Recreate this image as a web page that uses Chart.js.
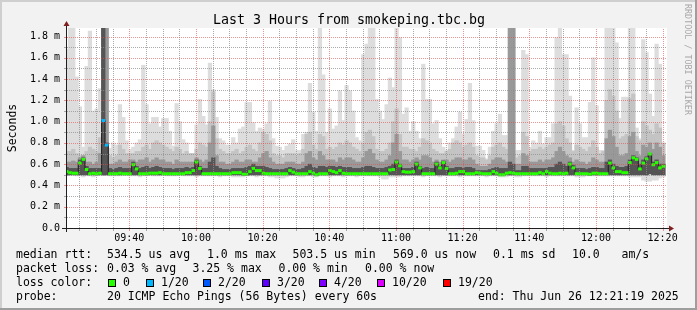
<!DOCTYPE html>
<html>
<head>
<meta charset="utf-8">
<script src="https://cdn.jsdelivr.net/npm/chart.js@4.4.1/dist/chart.umd.min.js"></script>
<style>
  html, body { margin: 0; padding: 0; background: #f2f2f2; }
  canvas { display: block; }
</style>
</head>
<body>
<canvas id="graph" width="697" height="310"></canvas>
<script>
// one value per 60 s step, 09:21 -> 12:21 (ms)
const maxPing = [
  1.68,1.88,1.88,1.42,1.14,0.76,1.52,1.85,1.10,1.12,1.31,1.88,1.88,0.75,0.80,0.78,1.16,1.04,0.82,0.74,0.76,0.80,0.83,1.53,1.16,0.98,1.04,1.04,0.95,1.03,
  1.03,0.91,0.77,1.17,1.00,0.83,0.80,0.70,0.70,0.97,1.21,1.05,0.97,1.55,1.30,1.04,0.84,0.82,0.78,0.78,0.85,0.80,0.93,0.95,1.18,1.18,0.99,0.91,0.94,0.93,
  0.98,1.19,0.84,0.77,0.76,0.73,0.77,0.79,0.83,0.73,0.73,0.88,0.90,1.36,1.09,0.91,1.88,1.44,0.90,1.12,0.93,0.96,1.29,1.01,1.34,1.29,1.10,0.85,0.82,1.63,
  1.73,1.88,1.88,1.21,1.10,1.02,1.16,1.41,1.32,1.88,1.79,1.07,1.13,0.91,1.00,0.91,0.84,1.54,1.21,1.21,0.98,1.01,0.84,0.76,0.73,0.80,0.84,0.95,1.09,0.88,
  1.02,1.36,1.01,0.77,0.77,0.73,0.65,0.76,0.91,0.98,1.07,0.87,0.87,1.88,1.88,0.73,0.73,1.67,1.63,0.76,0.82,0.80,0.91,0.79,0.85,0.85,0.98,1.79,1.88,1.63,
  1.63,1.24,0.73,1.13,0.98,0.85,0.85,1.18,1.60,1.15,0.73,0.73,1.88,1.88,1.88,1.74,1.03,1.23,1.23,1.88,1.88,0.94,0.84,1.77,1.65,1.26,1.05,1.73,1.54,0.79
];
const upperSmoke = [
  0.72,0.72,0.74,0.70,0.68,0.68,0.72,0.76,0.74,0.72,0.85,1.88,1.88,0.68,0.66,0.68,0.78,0.74,0.70,0.70,0.70,0.72,0.72,0.76,0.78,0.74,0.80,0.82,0.80,0.78,
  0.76,0.74,0.72,0.76,0.74,0.70,0.72,0.70,0.70,0.74,0.80,0.78,0.76,1.00,1.28,0.84,0.74,0.72,0.70,0.70,0.72,0.74,0.70,0.72,0.76,0.78,0.74,0.72,0.80,0.90,
  0.88,0.82,0.70,0.68,0.68,0.66,0.70,0.70,0.70,0.68,0.70,0.74,0.88,0.90,0.78,0.74,0.88,0.86,0.74,0.76,0.74,0.76,0.80,0.78,0.82,0.80,0.76,0.74,0.72,0.80,
  0.90,0.92,0.86,0.74,0.72,0.72,0.74,0.80,1.00,1.12,0.88,0.76,0.76,0.74,0.74,0.72,0.76,0.84,0.82,0.80,0.74,0.72,0.70,0.70,0.72,0.74,0.80,0.82,0.80,0.76,
  0.78,0.80,0.76,0.68,0.66,0.66,0.64,0.68,0.76,0.78,0.80,0.76,0.74,1.88,1.88,0.66,0.68,0.90,0.86,0.72,0.74,0.74,0.76,0.74,0.76,0.78,0.80,0.98,1.00,0.96,
  0.84,0.80,0.72,0.78,0.76,0.74,0.72,0.76,0.82,0.76,0.70,0.72,1.20,1.30,1.24,1.10,0.84,0.86,0.88,1.22,1.26,0.86,0.82,1.00,0.96,0.92,0.88,0.98,0.94,0.80
];
const midSmoke = [
  0.62,0.62,0.63,0.62,0.66,0.68,0.62,0.62,0.60,0.62,0.70,1.88,1.88,0.60,0.60,0.62,0.64,0.62,0.62,0.64,0.64,0.62,0.64,0.64,0.66,0.62,0.64,0.66,0.64,0.64,
  0.62,0.62,0.60,0.64,0.62,0.62,0.62,0.62,0.62,0.66,0.64,0.62,0.64,0.80,0.96,0.68,0.62,0.62,0.60,0.60,0.62,0.64,0.62,0.62,0.64,0.64,0.62,0.62,0.66,0.70,
  0.72,0.66,0.62,0.60,0.60,0.60,0.62,0.62,0.62,0.60,0.60,0.62,0.70,0.72,0.66,0.64,0.72,0.68,0.64,0.64,0.64,0.62,0.66,0.64,0.66,0.66,0.64,0.62,0.62,0.66,
  0.72,0.74,0.70,0.64,0.62,0.62,0.64,0.68,0.80,0.88,0.72,0.64,0.64,0.62,0.64,0.66,0.64,0.68,0.68,0.66,0.62,0.64,0.62,0.64,0.64,0.62,0.64,0.66,0.66,0.64,
  0.64,0.66,0.64,0.60,0.58,0.58,0.58,0.60,0.64,0.66,0.66,0.64,0.62,1.88,1.88,0.60,0.60,0.70,0.68,0.62,0.62,0.62,0.64,0.62,0.64,0.64,0.66,0.72,0.76,0.72,
  0.68,0.66,0.62,0.64,0.62,0.62,0.60,0.62,0.66,0.64,0.62,0.62,0.84,0.92,0.86,0.76,0.68,0.68,0.70,0.86,0.90,0.72,0.68,0.78,0.76,0.80,0.74,0.80,0.76,0.68
];
const innerSmoke = [
  0.57,0.56,0.56,0.56,0.64,0.66,0.58,0.56,0.56,0.56,0.56,1.88,0.80,0.56,0.55,0.56,0.57,0.56,0.56,0.56,0.62,0.58,0.56,0.57,0.58,0.56,0.57,0.58,0.57,0.56,
  0.56,0.56,0.55,0.56,0.56,0.56,0.57,0.56,0.57,0.64,0.58,0.56,0.56,0.62,0.66,0.58,0.56,0.55,0.55,0.55,0.56,0.56,0.56,0.56,0.57,0.58,0.60,0.58,0.58,0.58,
  0.57,0.56,0.55,0.55,0.55,0.55,0.56,0.57,0.56,0.55,0.55,0.56,0.58,0.60,0.57,0.56,0.58,0.58,0.57,0.58,0.58,0.57,0.58,0.57,0.57,0.57,0.56,0.56,0.56,0.57,
  0.58,0.58,0.57,0.56,0.56,0.56,0.57,0.58,0.60,0.64,0.60,0.56,0.56,0.56,0.57,0.62,0.58,0.56,0.57,0.56,0.56,0.62,0.58,0.63,0.58,0.56,0.56,0.57,0.57,0.56,
  0.57,0.57,0.56,0.54,0.54,0.54,0.54,0.55,0.56,0.57,0.56,0.56,0.56,0.62,0.60,0.54,0.54,0.58,0.58,0.56,0.56,0.56,0.56,0.56,0.56,0.57,0.57,0.60,0.62,0.60,
  0.58,0.62,0.59,0.56,0.56,0.56,0.55,0.56,0.57,0.57,0.56,0.56,0.62,0.64,0.60,0.58,0.57,0.57,0.58,0.64,0.68,0.66,0.60,0.64,0.67,0.70,0.62,0.64,0.60,0.60
];
// lower edge of the darker smoke bands
const lowSmoke = [
  0.50,0.50,0.50,0.50,0.50,0.50,0.50,0.50,0.50,0.50,0.50,0.50,0.50,0.50,0.50,0.50,0.50,0.50,0.50,0.50,0.50,0.50,0.50,0.50,0.50,0.50,0.50,0.50,0.50,0.50,
  0.50,0.50,0.50,0.50,0.50,0.50,0.50,0.50,0.50,0.50,0.50,0.50,0.50,0.50,0.50,0.50,0.50,0.50,0.50,0.50,0.50,0.50,0.50,0.495,0.495,0.50,0.50,0.50,0.50,0.50,
  0.50,0.50,0.50,0.50,0.50,0.50,0.50,0.50,0.50,0.50,0.50,0.50,0.50,0.50,0.50,0.495,0.50,0.50,0.50,0.50,0.50,0.50,0.50,0.50,0.50,0.50,0.50,0.50,0.50,0.50,
  0.50,0.50,0.50,0.50,0.50,0.50,0.50,0.50,0.50,0.50,0.50,0.50,0.50,0.50,0.50,0.50,0.50,0.50,0.50,0.50,0.50,0.50,0.50,0.50,0.50,0.50,0.50,0.50,0.50,0.50,
  0.50,0.50,0.50,0.50,0.50,0.50,0.50,0.50,0.50,0.50,0.495,0.495,0.50,0.50,0.50,0.50,0.50,0.50,0.50,0.50,0.50,0.50,0.50,0.50,0.50,0.50,0.50,0.50,0.50,0.50,
  0.50,0.50,0.50,0.50,0.50,0.50,0.50,0.495,0.50,0.50,0.50,0.50,0.50,0.50,0.50,0.50,0.50,0.50,0.50,0.50,0.50,0.50,0.50,0.50,0.50,0.51,0.50,0.50,0.50,0.50
];
const minPing = [
  0.50,0.50,0.50,0.49,0.49,0.48,0.49,0.49,0.48,0.49,0.50,0.50,0.50,0.49,0.49,0.49,0.49,0.50,0.50,0.49,0.49,0.49,0.48,0.49,0.49,0.50,0.49,0.49,0.49,0.50,
  0.49,0.49,0.49,0.49,0.50,0.49,0.49,0.49,0.49,0.48,0.49,0.49,0.49,0.49,0.49,0.49,0.48,0.49,0.49,0.49,0.48,0.48,0.48,0.48,0.49,0.49,0.49,0.48,0.49,0.49,
  0.49,0.48,0.48,0.47,0.47,0.47,0.48,0.49,0.49,0.49,0.48,0.48,0.49,0.49,0.48,0.48,0.49,0.49,0.49,0.48,0.49,0.49,0.49,0.48,0.49,0.49,0.49,0.48,0.49,0.49,
  0.49,0.49,0.49,0.49,0.48,0.46,0.46,0.48,0.48,0.48,0.48,0.49,0.49,0.49,0.49,0.49,0.49,0.48,0.49,0.49,0.49,0.49,0.48,0.49,0.49,0.49,0.49,0.49,0.48,0.49,
  0.49,0.49,0.49,0.49,0.49,0.49,0.48,0.49,0.49,0.49,0.48,0.48,0.48,0.49,0.49,0.48,0.48,0.49,0.49,0.49,0.49,0.49,0.49,0.49,0.48,0.49,0.49,0.49,0.49,0.49,
  0.49,0.49,0.49,0.48,0.48,0.48,0.49,0.49,0.49,0.49,0.49,0.49,0.49,0.49,0.49,0.49,0.49,0.49,0.49,0.48,0.48,0.48,0.48,0.45,0.44,0.44,0.45,0.45,0.47,0.48
];
const medianRtt = [
  0.53,0.52,0.515,0.515,0.61,0.645,0.55,0.51,0.515,0.51,0.515,1.01,0.78,0.51,0.51,0.51,0.515,0.51,0.51,0.51,0.595,0.555,0.51,0.51,0.51,0.515,0.515,0.515,0.52,0.51,
  0.51,0.51,0.51,0.51,0.51,0.51,0.52,0.52,0.54,0.62,0.56,0.51,0.51,0.51,0.51,0.51,0.51,0.51,0.51,0.51,0.52,0.52,0.52,0.505,0.505,0.53,0.56,0.54,0.54,0.515,
  0.51,0.51,0.51,0.51,0.51,0.51,0.51,0.54,0.525,0.51,0.51,0.51,0.51,0.53,0.515,0.50,0.51,0.51,0.51,0.54,0.53,0.52,0.54,0.515,0.51,0.51,0.51,0.51,0.51,0.51,
  0.51,0.51,0.51,0.51,0.51,0.51,0.51,0.545,0.55,0.62,0.585,0.53,0.525,0.525,0.53,0.60,0.565,0.51,0.51,0.51,0.51,0.60,0.565,0.615,0.56,0.51,0.51,0.515,0.53,0.53,
  0.51,0.51,0.51,0.52,0.515,0.51,0.51,0.51,0.53,0.515,0.50,0.50,0.515,0.52,0.515,0.51,0.51,0.51,0.51,0.51,0.51,0.51,0.52,0.51,0.53,0.515,0.51,0.51,0.515,0.51,
  0.515,0.60,0.565,0.51,0.51,0.51,0.51,0.505,0.515,0.515,0.51,0.51,0.51,0.61,0.565,0.53,0.53,0.52,0.52,0.615,0.66,0.645,0.555,0.61,0.65,0.695,0.595,0.615,0.565,0.58
];
// index into lossColors for each step (0 = no loss, 1 = 1/20)
const lossLevel = [
  0,0,0,0,0,0,0,0,0,0,0,1,1,0,0,0,0,0,0,0,0,0,0,0,0,0,0,0,0,0,
  0,0,0,0,0,0,0,0,0,0,0,0,0,0,0,0,0,0,0,0,0,0,0,0,0,0,0,0,0,0,
  0,0,0,0,0,0,0,0,0,0,0,0,0,0,0,0,0,0,0,0,0,0,0,0,0,0,0,0,0,0,
  0,0,0,0,0,0,0,0,0,0,0,0,0,0,0,0,0,0,0,0,0,0,0,0,0,0,0,0,0,0,
  0,0,0,0,0,0,0,0,0,0,0,0,0,0,0,0,0,0,0,0,0,0,0,0,0,0,0,0,0,0,
  0,0,0,0,0,0,0,0,0,0,0,0,0,0,0,0,0,0,0,0,0,0,0,0,0,0,0,0,0,0
];

const lossColors = ["#26ff00", "#00b8ff", "#0059ff", "#5e00ff", "#7e00ff", "#dd00ff", "#ff0000"];
const lossLabels = ["0", "1/20", "2/20", "3/20", "4/20", "10/20", "19/20"];

const xTickValues = [40, 60, 80, 100, 120, 140, 160, 180, 200]; // minutes after 09:00
const xTickLabels = ["09:40", "10:00", "10:20", "10:40", "11:00", "11:20", "11:40", "12:00", "12:20"];
const yTickValues = [0, 0.2, 0.4, 0.6, 0.8, 1.0, 1.2, 1.4, 1.6, 1.8];
const yTickLabels = ["0.0", "0.2 m", "0.4 m", "0.6 m", "0.8 m", "1.0 m", "1.2 m", "1.4 m", "1.6 m", "1.8 m"];

const titleText = "Last 3 Hours from smokeping.tbc.bg";
const rttRow = ["median rtt:", "534.5 us avg", "1.0 ms max", "503.5 us min", "569.0 us now", "0.1 ms sd", "10.0", "am/s"];
const lossRow = ["packet loss:", "0.03 % avg", "3.25 % max", "0.00 % min", "0.00 % now"];
const probeRow = ["probe:", "20 ICMP Echo Pings (56 Bytes) every 60s", "end: Thu Jun 26 12:21:19 2025"];

const X_START = 21 + 19 / 60; // 09:21:19
const X_END = X_START + 180;
const FIRST_STEP = 21.2;

const MONO = '"DejaVu Sans Mono", monospace';
const xs = medianRtt.map((_, i) => FIRST_STEP + i);

const smoke = (lower, upper, color, order) => ({
  type: "bar",
  data: xs.map((x, i) => ({ x: x, y: [lower[i], upper[i]] })),
  backgroundColor: color,
  borderWidth: 0,
  grouped: false,
  barThickness: 3.6,
  order: order
});

const rrdFrame = {
  id: "rrdFrame",
  beforeDraw(chart) {
    const { ctx, chartArea: a } = chart;
    ctx.save();
    ctx.fillStyle = "#f2f2f2";
    ctx.fillRect(0, 0, 697, 310);
    ctx.fillStyle = "#cfcfcf";
    ctx.fillRect(0, 0, 697, 2);
    ctx.fillRect(0, 0, 2, 310);
    ctx.fillStyle = "#9e9e9e";
    ctx.fillRect(0, 308, 697, 2);
    ctx.fillRect(695, 0, 2, 310);
    ctx.fillStyle = "#ffffff";
    ctx.fillRect(a.left, a.top, a.right - a.left, a.bottom - a.top);
    ctx.restore();
  },
  afterDatasetsDraw(chart) {
    const { ctx, chartArea: a, scales } = chart;
    const minor = "rgba(143,143,143,0.75)";
    const major = "rgba(222,79,79,0.6)";
    ctx.save();
    ctx.lineWidth = 1;
    // vertical grid every 5 minutes, red every 20
    for (let m = 25; m <= 200; m += 5) {
      const px = Math.round(scales.x.getPixelForValue(m)) + 0.5;
      if (px < a.left || px > a.right) continue;
      ctx.strokeStyle = m % 20 === 0 ? major : minor;
      ctx.setLineDash([1, 1]);
      ctx.beginPath(); ctx.moveTo(px, a.bottom); ctx.lineTo(px, a.top); ctx.stroke();
      ctx.setLineDash([]);
      ctx.beginPath(); ctx.moveTo(px, a.bottom + 0.5); ctx.lineTo(px, a.bottom + 3); ctx.stroke();
    }
    // horizontal grid every 0.1 ms, red every 0.2
    for (let k = 1; k <= 18; k++) {
      const py = Math.round(scales.y.getPixelForValue(k / 10)) + 0.5;
      ctx.strokeStyle = k % 2 === 0 ? major : minor;
      ctx.setLineDash([1, 1]);
      ctx.beginPath(); ctx.moveTo(a.left, py); ctx.lineTo(a.right, py); ctx.stroke();
      ctx.setLineDash([]);
      ctx.beginPath(); ctx.moveTo(a.left - 3, py); ctx.lineTo(a.left, py); ctx.stroke();
    }
    // axes
    ctx.strokeStyle = "#1f1f1f";
    const ax = a.left - 0.5, ay = a.bottom + 0.5;
    ctx.beginPath();
    ctx.moveTo(a.left - 5, ay); ctx.lineTo(a.right + 4, ay);
    ctx.moveTo(ax, a.bottom + 4); ctx.lineTo(ax, a.top - 4);
    ctx.stroke();
    ctx.fillStyle = "#801f1f";
    ctx.beginPath();
    ctx.moveTo(a.right + 2, ay - 3); ctx.lineTo(a.right + 2, ay + 3); ctx.lineTo(a.right + 7, ay);
    ctx.closePath(); ctx.fill();
    ctx.beginPath();
    ctx.moveTo(ax - 3, a.top - 2); ctx.lineTo(ax + 3, a.top - 2); ctx.lineTo(ax, a.top - 7);
    ctx.closePath(); ctx.fill();
    ctx.restore();
  },
  afterDraw(chart) {
    const { ctx } = chart;
    ctx.save();
    ctx.fillStyle = "#000";
    ctx.textBaseline = "alphabetic";
    ctx.font = "13.3px " + MONO;
    ctx.textAlign = "center";
    ctx.fillText(titleText, 349, 24);

    ctx.font = "11.5px " + MONO;
    ctx.save();
    ctx.translate(15.5, 128);
    ctx.rotate(-Math.PI / 2);
    ctx.fillText("Seconds", 0, 0);
    ctx.restore();

    ctx.save();
    ctx.font = "8.4px " + MONO;
    ctx.fillStyle = "#a8a8a8";
    ctx.textAlign = "left";
    ctx.translate(685, 4);
    ctx.rotate(Math.PI / 2);
    ctx.fillText("RRDTOOL / TOBI OETIKER", 0, 0);
    ctx.restore();

    ctx.textAlign = "left";
    const rttX = [16, 107, 207, 292.5, 393, 493, 572, 621.5];
    rttRow.forEach((t, i) => ctx.fillText(t, rttX[i], 258));
    const lossX = [16, 107, 192.5, 278.5, 365];
    lossRow.forEach((t, i) => ctx.fillText(t, lossX[i], 272));
    ctx.fillText("loss color:", 16, 286);
    const boxX = [108, 145.5, 203, 261.5, 319, 377, 442.5];
    lossColors.forEach((c, i) => {
      const bx = Math.round(boxX[i]);
      ctx.fillStyle = c;
      ctx.fillRect(bx, 279, 8, 8);
      ctx.strokeStyle = "#000";
      ctx.lineWidth = 1;
      ctx.strokeRect(bx + 0.5, 279.5, 7, 7);
      ctx.fillStyle = "#000";
      ctx.fillText(lossLabels[i], bx + 15, 286);
    });
    const probeX = [16, 107, 478];
    probeRow.forEach((t, i) => ctx.fillText(t, probeX[i], 300));
    ctx.restore();
  }
};

new Chart(document.getElementById("graph"), {
  type: "bar",
  data: {
    datasets: [
      {
        type: "line",
        data: xs.map((x, i) => ({ x: x, y: medianRtt[i] })),
        showLine: false,
        pointStyle: "line",
        pointRadius: 1.8,
        pointHoverRadius: 1.8,
        pointBorderWidth: 3,
        pointBorderColor: lossLevel.map((l) => lossColors[l]),
        order: 1
      },
      {
        type: "line",
        data: xs.map((x, i) => ({ x: x, y: medianRtt[i] })),
        stepped: "middle",
        borderColor: "#202020",
        borderWidth: 1,
        pointRadius: 0,
        order: 2
      },
      smoke(lowSmoke, innerSmoke, "#555555", 7),
      smoke(lowSmoke, midSmoke, "#999999", 8),
      smoke(lowSmoke, upperSmoke, "#c4c4c4", 9),
      smoke(minPing, maxPing, "#dddddd", 10)
    ]
  },
  options: {
    responsive: false,
    animation: false,
    devicePixelRatio: 1,
    layout: { padding: { left: 0, right: 30, top: 28, bottom: 0 } },
    plugins: { legend: { display: false }, tooltip: { enabled: false }, title: { display: false } },
    scales: {
      x: {
        type: "linear",
        min: X_START,
        max: X_END,
        offset: false,
        afterBuildTicks: (s) => { s.ticks = xTickValues.map((v) => ({ value: v })); },
        afterFit: (s) => { s.height = 82; },
        grid: { display: false, drawTicks: false },
        border: { display: false },
        ticks: {
          autoSkip: false,
          maxRotation: 0,
          padding: 4,
          color: "#000",
          font: { family: MONO, size: 10 },
          callback: (v, i) => xTickLabels[i]
        }
      },
      y: {
        min: 0,
        max: 1.88,
        afterBuildTicks: (s) => { s.ticks = yTickValues.map((v) => ({ value: v })); },
        afterFit: (s) => { s.width = 67; },
        grid: { display: false, drawTicks: false },
        border: { display: false },
        ticks: {
          padding: 7,
          color: "#000",
          font: { family: MONO, size: 10 },
          callback: (v, i) => yTickLabels[i]
        }
      }
    }
  },
  plugins: [rrdFrame]
});
</script>
</body>
</html>
